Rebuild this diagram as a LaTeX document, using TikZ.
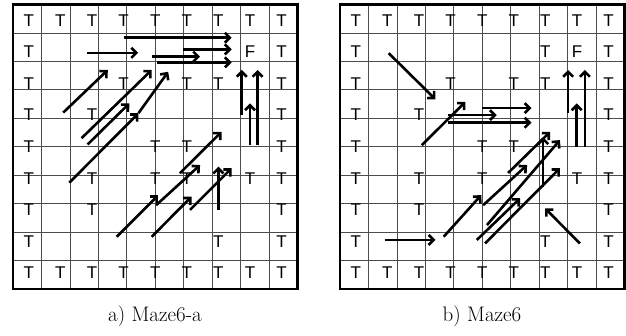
\documentclass[tikz,border=0pt]{standalone}
\usepackage{fontspec}
\newfontfamily\tfont{Liberation Sans}
\usetikzlibrary{arrows.meta}
\tikzset{
  gridline/.style={line width=0.8pt, draw=black!70},
  border/.style={line width=2.4pt, draw=black},
  cellT/.style={font=\tfont\fontsize{17}{17}\selectfont, inner sep=0pt},
  arr/.style={line width=2.6pt, line cap=butt, -{Straight Barb[length=5pt,width=10pt]}},
  captext/.style={font=\fontsize{21}{24}\selectfont, inner sep=0pt}
}
\begin{document}
\begin{tikzpicture}[x=1pt,y=-1pt]
\useasboundingbox (0,0) rectangle (626,335);
% ---------------- left grid ----------------
\begin{scope}[shift={(13,4.5)}, x=31.6pt, y=-31.6pt]
  \draw[gridline] (0,0) grid (9,9);
  \draw[border] (0,0) rectangle (9,9);
  \foreach \c in {1,...,9} {
    \node[cellT] (LA-1-\c) at (\c-0.5,0.5) {T};
    \node[cellT] (LA-9-\c) at (\c-0.5,8.5) {T};
  }
  \foreach \r in {2,...,8} {
    \node[cellT] (LA-\r-1) at (0.5,\r-0.5) {T};
    \node[cellT] (LA-\r-9) at (8.5,\r-0.5) {T};
  }
  \foreach \r/\c in {3/4,3/6,3/7,4/3,5/5,5/6,6/3,6/5,6/6,6/8,7/3,8/7} {
    \node[cellT] (LA-\r-\c) at (\c-0.5,\r-0.5) {T};
  }
  \node[cellT] (LA-F) at (7.5,1.5) {F};
  % arrows
  \draw[arr] (2.35,1.53) -- (3.96,1.53);
  \draw[arr] (3.5,1.05) -- (6.92,1.05);
  \draw[arr] (5.39,1.42) -- (6.92,1.42);
  \draw[arr] (4.4,1.65) -- (5.92,1.65);
  \draw[arr] (4.55,1.83) -- (6.92,1.83);
  \draw[arr] (1.59,3.42) -- (3.0,2.07);
  \draw[arr] (2.17,4.23) -- (4.39,2.07);
  \draw[arr] (2.36,4.43) -- (3.68,3.13);
  \draw[arr] (1.78,5.64) -- (3.97,3.44);
  \draw[arr] (3.97,3.44) -- (4.91,2.13);
  \draw[arr] (7.24,3.5) -- (7.24,2.07);
  \draw[arr] (7.5,4.45) -- (7.5,3.13);
  \draw[arr] (7.74,4.45) -- (7.74,2.07);
  \draw[arr] (3.28,7.35) -- (4.60,6.03);
  \draw[arr] (4.53,6.35) -- (5.92,5.08);
  \draw[arr] (4.39,7.35) -- (5.65,6.08);
  \draw[arr] (5.60,6.50) -- (6.92,5.18);
  \draw[arr] (5.28,5.34) -- (6.60,4.03);
  \draw[arr] (6.5,6.5) -- (6.5,5.13);
\end{scope}
% ---------------- right grid ----------------
\begin{scope}[shift={(340,4.5)}, x=31.6pt, y=-31.6pt]
  \draw[gridline] (0,0) grid (9,9);
  \draw[border] (0,0) rectangle (9,9);
  \foreach \c in {1,...,9} {
    \node[cellT] (RB-1-\c) at (\c-0.5,0.5) {T};
    \node[cellT] (RB-9-\c) at (\c-0.5,8.5) {T};
  }
  \foreach \r in {2,...,8} {
    \node[cellT] (RB-\r-1) at (0.5,\r-0.5) {T};
    \node[cellT] (RB-\r-9) at (8.5,\r-0.5) {T};
  }
  \foreach \r/\c in {2/7,3/4,3/6,3/7,4/3,5/5,5/6,6/3,6/5,6/8,7/3,8/7} {
    \node[cellT] (RB-\r-\c) at (\c-0.5,\r-0.5) {T};
  }
  \node[cellT] (RB-F) at (7.5,1.5) {F};
  % arrows
  \draw[arr] (1.54,1.54) -- (3.02,3.0);
  \draw[arr] (2.59,4.45) -- (3.97,3.08);
  \draw[arr] (4.48,3.28) -- (6.06,3.28);
  \draw[arr] (3.42,3.5) -- (4.96,3.5);
  \draw[arr] (3.42,3.74) -- (6.06,3.74);
  \draw[arr] (7.22,3.44) -- (7.22,2.07);
  \draw[arr] (7.49,4.5) -- (7.49,3.13);
  \draw[arr] (7.75,4.5) -- (7.75,2.07);
  \draw[arr] (1.41,7.45) -- (3.02,7.45);
  \draw[arr] (3.28,7.35) -- (4.47,6.03);
  \draw[arr] (4.33,7.45) -- (5.70,6.13);
  \draw[arr] (4.59,7.56) -- (6.96,5.18);
  \draw[arr] (4.53,6.35) -- (5.92,5.08);
  \draw[arr] (5.32,5.33) -- (6.65,4.03);
  \draw[arr] (4.65,6.98) -- (6.96,4.29);
  \draw[arr] (6.43,5.77) -- (6.43,4.2);
  \draw[arr] (7.59,7.56) -- (6.49,6.45);
\end{scope}
% captions
\node[captext] (capA) at (155,316) {a) Maze6-a};
\node[captext] (capB) at (482,316) {b) Maze6};
\end{tikzpicture}
\end{document}
